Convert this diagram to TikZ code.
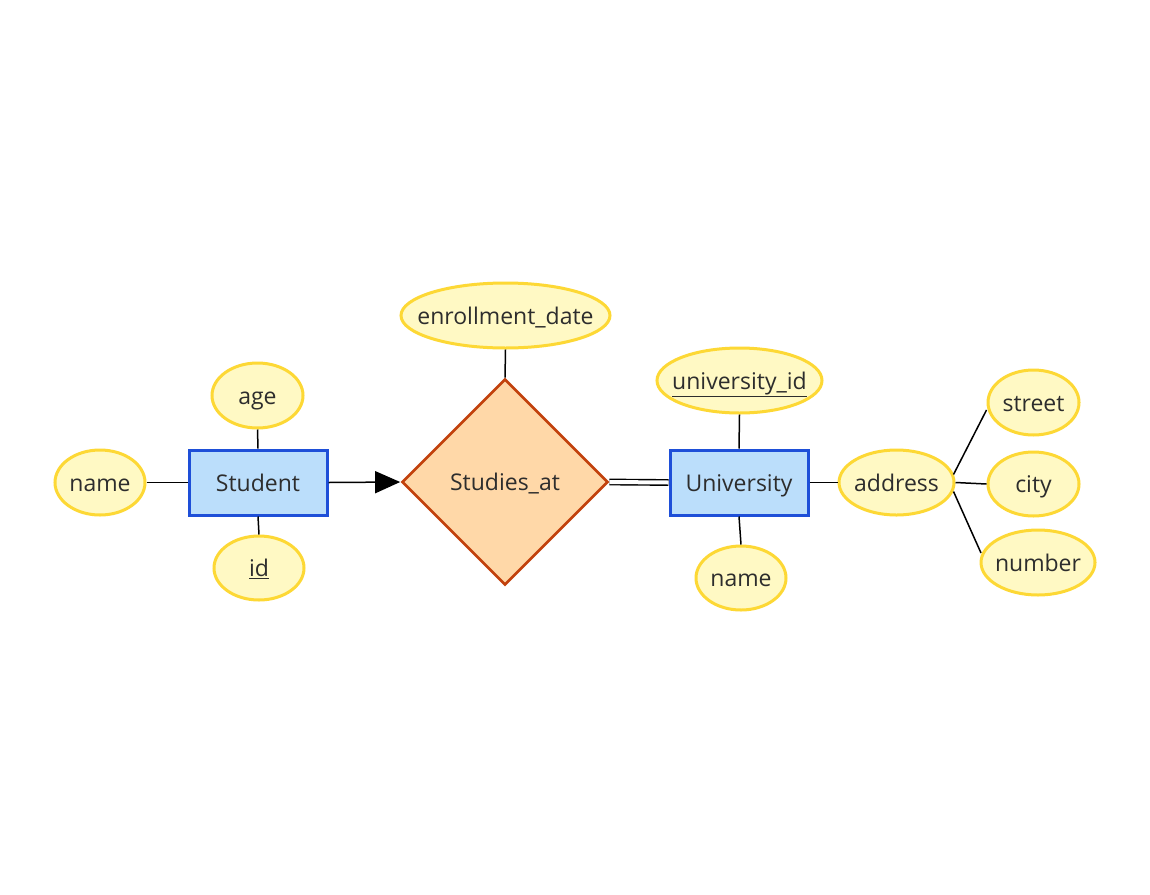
\documentclass[tikz,border=0pt]{standalone}
\usepackage{fontspec}
\setmainfont{Open Sans}
\usetikzlibrary{shapes.geometric,arrows.meta}
\definecolor{attrfill}{HTML}{FFF9C4}
\definecolor{attrline}{HTML}{FDD835}
\definecolor{entfill}{HTML}{BBDEFB}
\definecolor{entline}{HTML}{1E4FD8}
\definecolor{relfill}{HTML}{FFD8A8}
\definecolor{relline}{HTML}{C2410C}
\definecolor{txt}{HTML}{2D2D2D}
\newcommand{\fixw}[1]{\makebox[0pt]{#1}}
\tikzset{
  lbl/.style={text=txt, font=\fontsize{23}{27}\selectfont, text height=20pt, text depth=3pt},
  attr/.style={ellipse, draw=attrline, fill=attrfill, line width=3pt, inner sep=0pt, lbl},
  entity/.style={rectangle, draw=entline, fill=entfill, line width=3pt, minimum width=138pt, minimum height=65pt, inner sep=0pt, lbl},
  rel/.style={diamond, draw=relline, fill=relfill, line width=2.7pt, minimum width=206pt, minimum height=206pt, inner sep=0pt, lbl},
  conn/.style={draw=black, line width=1.5pt},
}
\begin{document}
\begin{tikzpicture}[x=1pt,y=-1pt]
\useasboundingbox (0,0) rectangle (1150,894);
\fill[white] (0,0) rectangle (1150,894);
% entities and relationship
\node[entity] (student) at (258,482.5) {Student};
\node[rel] (studies) at (505,482) {\fixw{Studies\_at}};
\node[entity] (univ) at (739,482.5) {University};
% attributes
\node[attr, minimum width=90pt, minimum height=65pt] (sname) at (100,482.5) {\fixw{name}};
\node[attr, minimum width=91pt, minimum height=65pt] (age) at (257.5,395.5) {\fixw{age}};
\node[attr, minimum width=90pt, minimum height=64pt] (id) at (259,568) {\fixw{\underline{id}}};
\node[attr, minimum width=209pt, minimum height=65pt] (enroll) at (505.5,315.5) {\fixw{enrollment\_date}};
\node[attr, minimum width=165pt, minimum height=65pt] (uid) at (739.5,380.5) {\fixw{\underline{university\_id}}};
\node[attr, minimum width=90pt, minimum height=64pt] (uname) at (741,578) {\fixw{name}};
\node[attr, minimum width=115pt, minimum height=65pt] (addr) at (896.5,482.5) {\fixw{address}};
\node[attr, minimum width=91pt, minimum height=65pt] (street) at (1033.5,402.5) {\fixw{street}};
\node[attr, minimum width=91pt, minimum height=64pt] (city) at (1033.5,484) {\fixw{city}};
\node[attr, minimum width=114pt, minimum height=65pt] (number) at (1038,562.5) {\fixw{number}};
% connectors
\draw[conn] (sname.east) -- (student.west);
\draw[conn] (age.south) -- (student.north);
\draw[conn] (id.north) -- (student.south);
\draw[conn] (enroll.south) -- (studies.north);
\draw[conn, -{Triangle[length=25pt,width=22pt]}, shorten >=0.5pt] (student.east) -- (studies.west);
\draw[draw=black, line width=1.4pt, double=white, double distance=4pt] (studies.east) -- (univ.west);
\draw[conn] (addr.east) ++(-2,-8) coordinate (a1) -- (street.west |- 0,410);
\draw[conn] (addr.east) -- (city.west);
\draw[conn] (addr.east) ++(-2,9) coordinate (a2) -- (981,553);
\draw[conn] (uid.south) -- (univ.north);
\draw[conn] (uname.north) -- (univ.south);
\draw[conn] (univ.east) -- (addr.west);
\end{tikzpicture}
\end{document}
